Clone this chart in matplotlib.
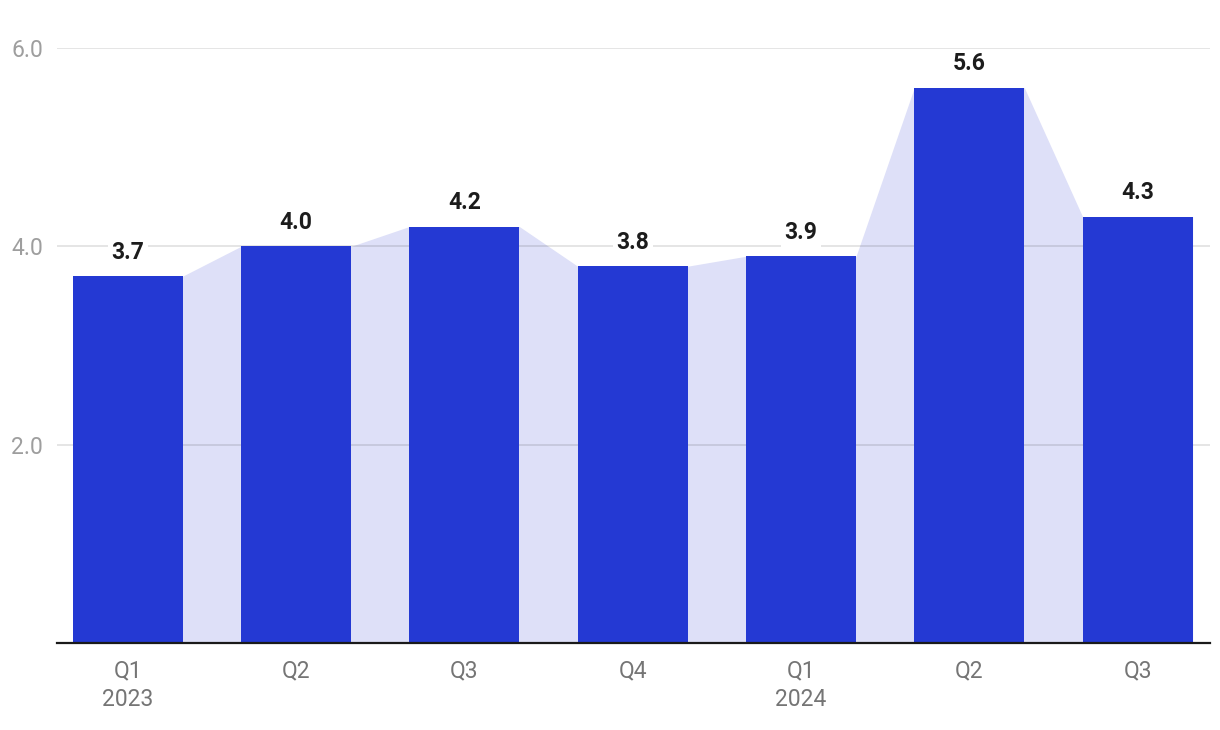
import matplotlib
matplotlib.use('Agg')
import matplotlib.pyplot as plt
import numpy as np

# Quarterly values
quarters = ["Q1\n2023", "Q2", "Q3", "Q4", "Q1\n2024", "Q2", "Q3"]
values = [3.7, 4.0, 4.2, 3.8, 3.9, 5.6, 4.3]
y_ticks = [2.0, 4.0, 6.0]

BAR_COLOR = '#2439d3'
FILL_COLOR = '#dee0f8'
BAR_WIDTH = 0.654

plt.rcParams['font.family'] = ['Roboto', 'DejaVu Sans']

fig = plt.figure(figsize=(12.2, 7.3), dpi=100)
ax = fig.add_axes([0.0467, 0.1192, 0.9451, 0.815])

x = np.arange(len(values))

# shaded area joining the bar tops
fx, fy = [], []
for xi, v in zip(x, values):
    fx += [xi - BAR_WIDTH / 2, xi + BAR_WIDTH / 2]
    fy += [v, v]
ax.fill_between(fx, fy, 0, color=FILL_COLOR, linewidth=0, zorder=1)

ax.bar(x, values, width=BAR_WIDTH, color=BAR_COLOR, zorder=3)

for xi, v in zip(x, values):
    ax.annotate(f"{v:.1f}", (xi, v), xytext=(0, 9), textcoords='offset points',
                ha='center', va='bottom', fontsize=16.5, fontweight='bold',
                color='#1c1c1c', zorder=4,
                bbox=dict(boxstyle='square,pad=0.15', fc='white', ec='none'))

ax.set_xlim(-0.42, 6.43)
ax.set_ylim(0, 6.0)
ax.set_yticks(y_ticks)
ax.set_yticklabels([f"{t:.1f}" for t in y_ticks])
ax.set_xticks(x)
ax.set_xticklabels(quarters, linespacing=1.3)

ax.grid(axis='y', color='black', alpha=0.12, linewidth=1.2)
for gl in ax.get_ygridlines():
    gl.set_zorder(2)

for s in ['top', 'right', 'left']:
    ax.spines[s].set_visible(False)
ax.spines['bottom'].set_color('#1a1a1a')
ax.spines['bottom'].set_linewidth(1.6)
ax.spines['bottom'].set_zorder(5)

ax.tick_params(axis='x', length=0, pad=12, labelsize=16.5, labelcolor='#757575')
ax.tick_params(axis='y', length=0, pad=10, labelsize=16.5, labelcolor='#9e9e9e')

fig.savefig('out.png', dpi=100)
